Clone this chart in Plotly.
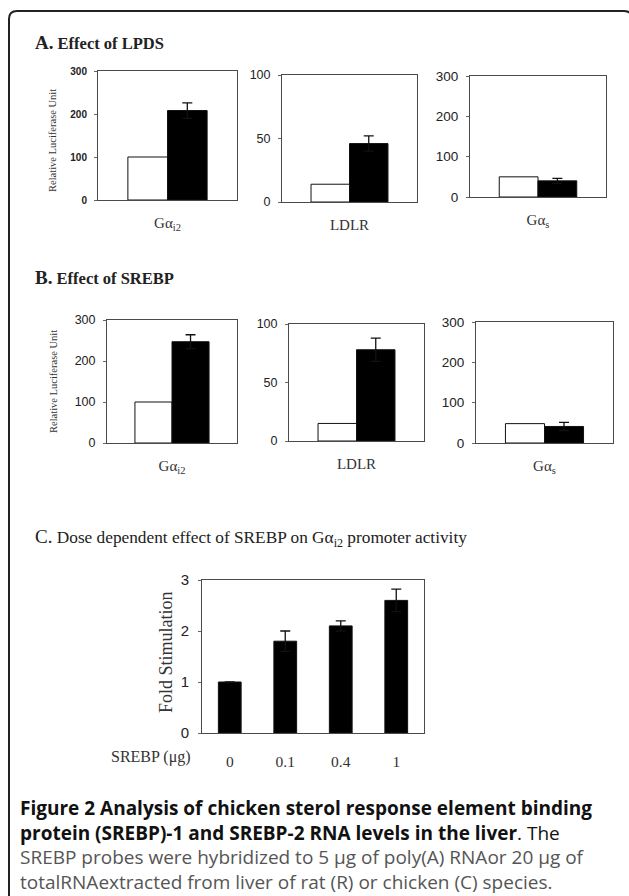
import plotly.graph_objects as go

W, H = 629, 896

# ---------------- data ----------------
genes = ["Gα<sub>i2</sub>", "LDLR", "Gα<sub>s</sub>"]
lpds_control = [100, 14, 50]
lpds_treated = [208, 46, 40]
lpds_err = [18, 6, 6]
srebp_control = [100, 15, 48]
srebp_treated = [247, 78, 41]
srebp_err = [17, 10, 10]
gene_ranges = [300, 100, 300]
gene_dticks = [100, 50, 100]

dose_labels = ["0", "0.1", "0.4", "1"]
dose_fold = [1.0, 1.8, 2.1, 2.6]
dose_err = [0, 0.2, 0.1, 0.22]


def px(x):
    return x / W


def py(y):
    return 1 - y / H


SERIF = "Liberation Serif, Times New Roman, serif"
SANS = "Liberation Sans, Arial, sans-serif"
CAP = "Open Sans, Noto Sans, sans-serif"

fig = go.Figure()

# plot boxes in pixels: (x0, x1, ytop, ybottom)
boxes_A = [(98, 237, 71, 200), (282, 417, 75, 202), (470, 606, 76, 197)]
boxes_B = [(107, 237, 320, 443), (289, 424, 324, 441), (476, 613, 322, 443)]
box_C = (202, 424, 580, 733)
tick_sizes_A = [10, 12.5, 13.5]
tick_sizes_B = [12.5, 12.5, 13.5]

layout = dict(
    width=W, height=H, margin=dict(l=0, r=0, t=0, b=0, autoexpand=False),
    paper_bgcolor="white", plot_bgcolor="white", showlegend=False,
    barmode="overlay",
)

BW = 0.285


def axis_common():
    return dict(showgrid=False, zeroline=False, showline=True, mirror=True,
                linecolor="#4a4a4a", linewidth=1)


ax = 0
for panel, (ctrl, trt, err, boxes, tsz) in enumerate([
        (lpds_control, lpds_treated, lpds_err, boxes_A, tick_sizes_A),
        (srebp_control, srebp_treated, srebp_err, boxes_B, tick_sizes_B)]):
    for i in range(3):
        ax += 1
        xa = "x" if ax == 1 else f"x{ax}"
        ya = "y" if ax == 1 else f"y{ax}"
        x0, x1, yt, yb = boxes[i]
        fig.add_trace(go.Bar(x=[genes[i]], y=[ctrl[i]], xaxis=xa, yaxis=ya,
                             width=BW, offset=-BW,
                             marker=dict(color="white", line=dict(color="#111", width=1))))
        fig.add_trace(go.Bar(x=[genes[i]], y=[trt[i]], xaxis=xa, yaxis=ya,
                             width=BW, offset=0,
                             marker=dict(color="black", line=dict(color="#111", width=1)),
                             error_y=dict(type="data", array=[err[i]], visible=True,
                                          color="#111", thickness=1.3, width=5)))
        xk = "xaxis" if ax == 1 else f"xaxis{ax}"
        yk = "yaxis" if ax == 1 else f"yaxis{ax}"
        layout[xk] = dict(axis_common(), domain=[px(x0), px(x1)], anchor=ya,
                          type="category", range=[-0.5, 0.5], ticks="",
                          ticklabelstandoff=9,
                          tickfont=dict(family=SERIF, size=15, color="#333"))
        layout[yk] = dict(axis_common(), domain=[py(yb), py(yt)], anchor=xa,
                          range=[0, gene_ranges[i]], dtick=gene_dticks[i],
                          ticks="outside", ticklen=3, tickcolor="#666",
                          ticklabelstandoff=5,
                          tickfont=dict(family=SANS, size=tsz[i], color="#222",
                                        weight="bold" if (panel == 0 and i == 0) else "normal"))

# panel C
ax += 1
xa, ya = f"x{ax}", f"y{ax}"
x0, x1, yt, yb = box_C
fig.add_trace(go.Bar(x=dose_labels, y=dose_fold, xaxis=xa, yaxis=ya, width=0.41,
                     marker=dict(color="black", line=dict(color="#111", width=1)),
                     error_y=dict(type="data", array=dose_err, visible=True,
                                  color="#111", thickness=1.3, width=5)))
layout[f"xaxis{ax}"] = dict(axis_common(), domain=[px(x0), px(x1)], anchor=ya,
                            type="category", ticks="", ticklabelstandoff=14,
                            tickfont=dict(family=SERIF, size=15.5, color="#333"))
layout[f"yaxis{ax}"] = dict(axis_common(), domain=[py(yb), py(yt)], anchor=xa,
                            range=[0, 3], dtick=1, ticks="outside", ticklen=3,
                            tickcolor="#666", ticklabelstandoff=6,
                            tickfont=dict(family=SANS, size=15, color="#222"))

fig.update_layout(**layout)

ann = []


def text(x, y, s, size, family=SERIF, color="#333", xanchor="left", angle=0,
         yanchor="middle"):
    ann.append(dict(x=px(x), y=py(y), xref="paper", yref="paper", text=s,
                    showarrow=False, xanchor=xanchor, yanchor=yanchor, align="left",
                    textangle=angle, font=dict(family=family, size=size, color=color)))


text(33, 42, "<b><span style='font-size:19px'>A.</span> Effect of LPDS</b>", 16.5, color="#222")
text(33, 277, "<b><span style='font-size:19px'>B.</span> Effect of SREBP</b>", 16.5, color="#222")
text(33, 538, "<span style='font-size:19px'>C.</span> Dose dependent effect of SREBP on Gα<sub>i2</sub> promoter activity", 17.3, color="#222")
text(52, 140, "Relative Luciferase Unit", 10.5, xanchor="center", angle=-90)
text(53, 382, "Relative Luciferase Unit", 10.5, xanchor="center", angle=-90)
text(166, 652, "Fold Stimulation", 18, xanchor="center", angle=-90)
text(193, 757, "SREBP (μg)", 16, xanchor="right")

caption = ("<b>Figure 2 Analysis of chicken sterol response element binding</b><br>"
           "<b>protein (SREBP)-1 and SREBP-2 RNA levels in the liver</b>. The<br>"
           "<span style='color:#555'>SREBP probes were hybridized to 5 μg of poly(A) RNAor 20 μg of</span><br>"
           "<span style='color:#555'>totalRNAextracted from liver of rat (R) or chicken (C) species.</span>")
text(18, 845, caption, 19, CAP, "#111")

# frame (rounded rectangle, extends past right/bottom edges)
r = 8
L, T, R, B = 9, 11, 632, 910
path = (f"M {px(L)} {py(B)} L {px(L)} {py(T + r)} Q {px(L)} {py(T)} {px(L + r)} {py(T)} "
        f"L {px(R - r)} {py(T)} Q {px(R)} {py(T)} {px(R)} {py(T + r)} L {px(R)} {py(B)}")
fig.update_layout(annotations=ann,
                  shapes=[dict(type="path", xref="paper", yref="paper", path=path,
                               line=dict(color="#222", width=2))])

fig.write_html("out.html", config={"displayModeBar": False},
               post_script="document.body.style.margin='0';document.body.style.overflow='hidden';")
